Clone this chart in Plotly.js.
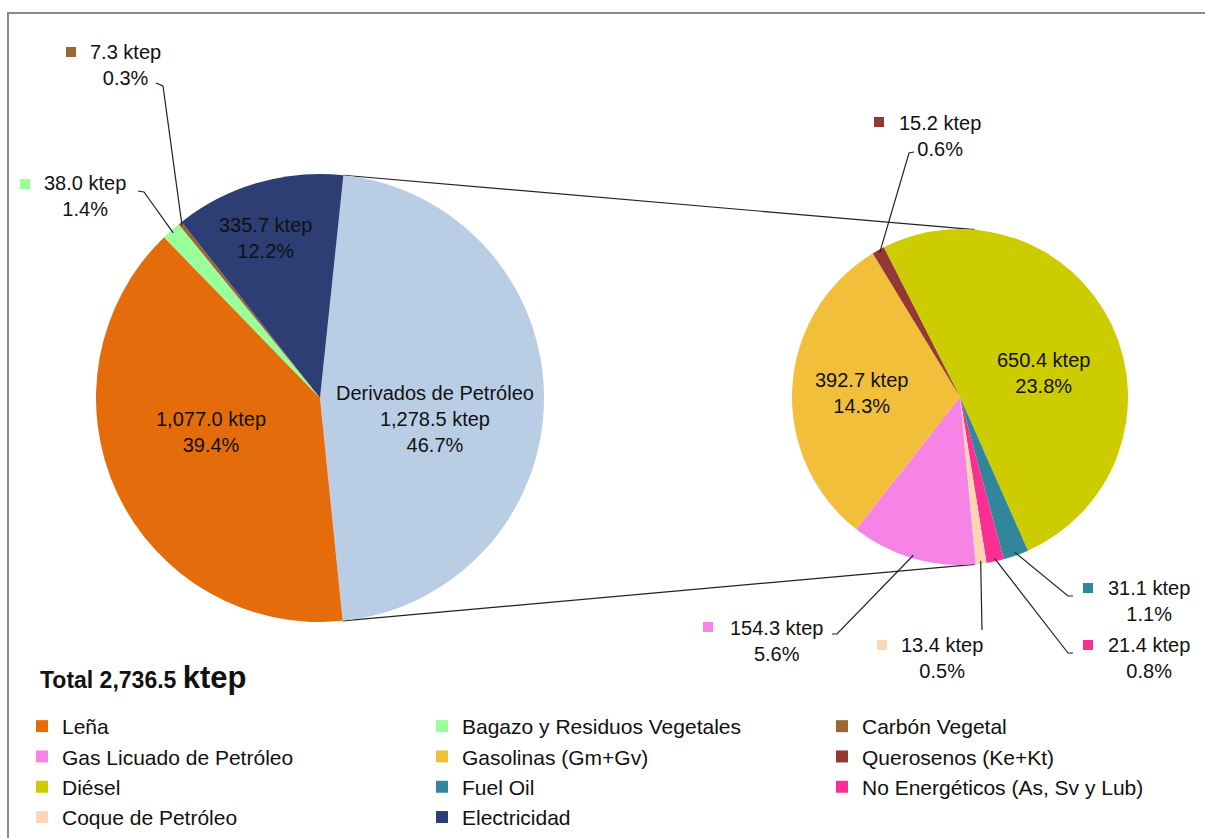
<!DOCTYPE html>
<html><head><meta charset="utf-8">
<script src="https://cdn.plot.ly/plotly-3.0.1.min.js"></script>
<style>html,body{margin:0;padding:0;background:#fff}#chart{width:1205px;height:838px}</style>
</head><body><div id="chart"></div>
<script>
// ---------- data ----------
const mainLabels = ['Derivados de Petróleo','Leña','Bagazo y Residuos Vegetales','Carbón Vegetal','Electricidad'];
const mainValues = [1278.5, 1077.0, 38.0, 7.3, 335.7];
const mainPercents = [46.7, 39.4, 1.4, 0.3, 12.2];
const mainColors = ['#B9CDE5','#E46C0A','#99FF99','#9C6531','#2C3E74'];

const subLabels = ['Diésel','Fuel Oil','No Energéticos (As, Sv y Lub)','Coque de Petróleo','Gas Licuado de Petróleo','Gasolinas (Gm+Gv)','Querosenos (Ke+Kt)'];
const subValues = [650.4, 31.1, 21.4, 13.4, 154.3, 392.7, 15.2];
const subPercents = [23.8, 1.1, 0.8, 0.5, 5.6, 14.3, 0.6];
const subColors = ['#CCCC00','#31869C','#FA2F92','#FCD5B5','#F683E6','#F2BF3B','#953735'];

const legendOrder = ['Leña','Bagazo y Residuos Vegetales','Carbón Vegetal','Gas Licuado de Petróleo','Gasolinas (Gm+Gv)','Querosenos (Ke+Kt)','Diésel','Fuel Oil','No Energéticos (As, Sv y Lub)','Coque de Petróleo','Electricidad'];
const unit = 'ktep';

// ---------- helpers ----------
const W = 1205, H = 838;
const X = p => p / W, Y = p => 1 - p / H;
const FONT = 'Liberation Sans, Arial, sans-serif';
const totalValue = mainValues.reduce((a, b) => a + b, 0);
const fmt = v => v.toLocaleString('en-US', {minimumFractionDigits: 1, maximumFractionDigits: 1});
const pctTxt = p => p.toFixed(1) + '%';

const allLabels = mainLabels.concat(subLabels);
const allValues = mainValues.concat(subValues);
const allColors = mainColors.concat(subColors);
const lookup = (lab, arr) => arr[allLabels.indexOf(lab)];

// pie geometry (layout)
const PL = {cx: 320, cy: 398, r: 224, rot: 6};
const PR = {cx: 960, cy: 397, r: 168, rot: -27};
const dom = c => ({x: [X(c.cx - c.r), X(c.cx + c.r)], y: [Y(c.cy + c.r), Y(c.cy - c.r)]});
function midAngle(vals, rot, idx) {
  const tot = vals.reduce((a, b) => a + b, 0);
  let a = rot;
  for (let i = 0; i < idx; i++) a += vals[i] / tot * 360;
  return a + vals[idx] / tot * 180;
}
function pt(c, ang, rr) {
  const t = ang * Math.PI / 180;
  return [c.cx + rr * Math.sin(t), c.cy - rr * Math.cos(t)];
}

// label placement (layout only)
const labelPos = {
  'Derivados de Petróleo': {x: 435, y: 419, name: true},
  'Leña': {x: 211, y: 432},
  'Electricidad': {x: 265, y: 238},
  'Bagazo y Residuos Vegetales': {x: 85, y: 196, sq: [20, 179], elbow: [[138, 191], [144, 192]]},
  'Carbón Vegetal': {x: 125, y: 65.5, sq: [66, 47], elbow: [[156, 83], [163, 86]]},
  'Diésel': {x: 1043, y: 373},
  'Gasolinas (Gm+Gv)': {x: 861, y: 393},
  'Querosenos (Ke+Kt)': {x: 940, y: 135.5, sq: [874, 117], elbow: [[914, 152], [909, 153]]},
  'Gas Licuado de Petróleo': {x: 776, y: 640.5, sq: [703, 622], elbow: [[832, 634], [837, 634]]},
  'Coque de Petróleo': {x: 942, y: 657.5, sq: [877, 640], elbow: [[982, 630]]},
  'Fuel Oil': {x: 1149, y: 601, sq: [1083, 583], elbow: [[1073, 596], [1068, 596]]},
  'No Energéticos (As, Sv y Lub)': {x: 1149, y: 658, sq: [1083, 640], elbow: [[1073, 653], [1068, 653]]}
};

const annotations = [];
const shapes = [];

function addLabels(labels, values, percents, colors, pie) {
  labels.forEach((lab, i) => {
    const p = labelPos[lab];
    if (!p) return;
    const txt = (p.name ? lab + '<br>' : '') + fmt(values[i]) + ' ' + unit + '<br>' + pctTxt(percents[i]);
    annotations.push({x: X(p.x), y: Y(p.y), xref: 'paper', yref: 'paper', xanchor: 'center', yanchor: 'middle',
      text: txt, showarrow: false, align: 'center', font: {family: FONT, size: 20, color: '#111'}});
    if (p.sq) {
      shapes.push({type: 'rect', xref: 'paper', yref: 'paper', x0: X(p.sq[0]), x1: X(p.sq[0] + 10),
        y0: Y(p.sq[1] + 10), y1: Y(p.sq[1]), fillcolor: colors[i], line: {width: 0}});
    }
    if (p.elbow) {
      const end = pt(pie, midAngle(values, pie.rot, i), pie.r - 3);
      const pts = p.elbow.concat([end]);
      const path = pts.map((q, k) => (k ? 'L' : 'M') + X(q[0]).toFixed(5) + ',' + Y(q[1]).toFixed(5)).join(' ');
      shapes.push({type: 'path', xref: 'paper', yref: 'paper', path: path, line: {color: '#222', width: 1.2}});
    }
  });
}
addLabels(mainLabels, mainValues, mainPercents, mainColors, PL);
addLabels(subLabels, subValues, subPercents, subColors, PR);

// connector lines between the pies
const a0 = pt(PL, PL.rot, PL.r), a1 = pt(PL, PL.rot + mainValues[0] / totalValue * 360, PL.r);
const b0 = pt(PR, 5, PR.r), b1 = pt(PR, 175, PR.r);
[[a0, b0], [a1, b1]].forEach(([s, e]) => shapes.push({type: 'line', xref: 'paper', yref: 'paper',
  x0: X(s[0]), y0: Y(s[1]), x1: X(e[0]), y1: Y(e[1]), line: {color: '#222', width: 1.2}, layer: 'below'}));

// frame
shapes.push({type: 'rect', xref: 'paper', yref: 'paper', x0: X(8), y0: Y(860), x1: X(1230), y1: Y(13),
  line: {color: '#8a8a8a', width: 2}, fillcolor: 'rgba(0,0,0,0)'});

// total
annotations.push({x: X(38), y: Y(677), xref: 'paper', yref: 'paper', xanchor: 'left', yanchor: 'middle', showarrow: false,
  text: '<b>Total ' + fmt(totalValue) + ' <span style="font-size:31px">' + unit + '</span></b>',
  font: {family: FONT, size: 23, color: '#111'}});

const traces = [
  {type: 'pie', labels: mainLabels, values: mainValues, marker: {colors: mainColors, line: {width: 0}},
   sort: false, direction: 'clockwise', rotation: PL.rot, textinfo: 'none', showlegend: false,
   domain: dom(PL), hoverinfo: 'label+value'},
  {type: 'pie', labels: subLabels, values: subValues, marker: {colors: subColors, line: {width: 0}},
   sort: false, direction: 'clockwise', rotation: PR.rot, textinfo: 'none', showlegend: false,
   domain: dom(PR), hoverinfo: 'label+value'},
  // legend carrier (same data, legend order)
  {type: 'pie', labels: legendOrder, values: legendOrder.map(l => lookup(l, allValues)),
   marker: {colors: legendOrder.map(l => lookup(l, allColors)), line: {width: 0}},
   sort: false, textinfo: 'none', showlegend: true, hoverinfo: 'skip',
   domain: {x: [0, 0.0004], y: [0, 0.0004]}}
];

const layout = {
  width: W, height: H,
  margin: {l: 0, r: 0, t: 0, b: 0, autoexpand: false},
  paper_bgcolor: '#fff', plot_bgcolor: '#fff',
  font: {family: FONT, color: '#111'},
  showlegend: true,
  legend: {orientation: 'h', x: X(22), y: Y(706), xanchor: 'left', yanchor: 'top',
    entrywidth: 355, entrywidthmode: 'pixels', font: {family: FONT, size: 21, color: '#111'},
    bgcolor: 'rgba(0,0,0,0)', traceorder: 'normal'},
  annotations: annotations,
  shapes: shapes
};

Plotly.newPlot('chart', traces, layout, {displayModeBar: false, staticPlot: true});
</script>
</body></html>
